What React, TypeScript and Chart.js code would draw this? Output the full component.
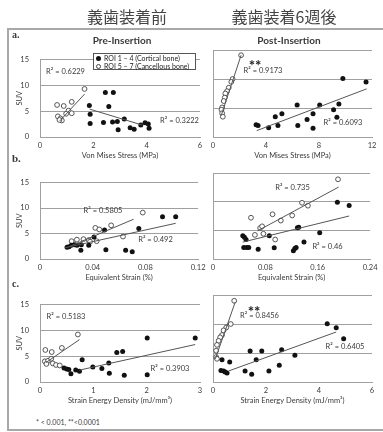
import React, { useEffect, useRef } from 'react';
import { Chart, registerables } from 'chart.js';

Chart.register(...registerables);

type Pt = [number, number];

// ---------- text ----------
const jpTitles = ['義歯装着前', '義歯装着6週後'];
const phaseTitles = ['Pre-Insertion', 'Post-Insertion'];
const rowLetters = ['a.', 'b.', 'c.'];
const roiLabels = ['ROI 1 – 4 (Cortical bone)', 'ROI 5 – 7 (Cancellous bone)'];
const xTitles = ['Von Mises Stress (MPa)', 'Equivalent Strain (%)', 'Strain Energy Density (mJ/mm³)'];
const yTitle = 'SUV';
const footnote = '* < 0.001, **<0.0001';

// ---------- ticks ----------
const suvTicks = [0, 5, 10, 15];
const suvTickLabels = ['0', '5', '10', '15'];
const stressTicksPre = [0, 2, 4, 6];
const stressLabelsPre = ['0', '2', '4', '6'];
const stressTicksPost = [0, 4, 8, 12];
const stressLabelsPost = ['0', '4', '8', '12'];
const strainTicksPre = [0, 0.04, 0.08, 0.12];
const strainLabelsPre = ['0', '0.04', '0.08', '0.12'];
const strainTicksPost = [0, 0.08, 0.16, 0.24];
const strainLabelsPost = ['0', '0.08', '0.16', '0.24'];
const sedTicksPre = [0, 1, 2, 3];
const sedLabelsPre = ['0', '1', '2', '3'];
const sedTicksPost = [0, 2, 4, 6];
const sedLabelsPost = ['0', '2', '4', '6'];

// ---------- a. Von Mises stress ----------
const stressPreCortical: Pt[] = [
  [1.85, 6.1], [1.88, 4.4], [1.88, 2.6], [2.45, 8.6], [2.75, 8.6], [2.58, 5.9], [2.38, 2.8],
  [2.72, 2.9], [2.9, 3.0], [2.93, 1.4], [3.16, 3.5], [3.38, 1.8], [3.53, 1.5], [3.78, 2.3],
  [3.94, 2.75], [4.06, 2.5], [4.09, 1.7],
];
const stressPreCancellous: Pt[] = [
  [0.64, 6.2], [0.89, 6.0], [1.19, 6.8], [1.67, 9.3], [1.07, 5.1], [1.19, 4.6], [0.98, 4.5],
  [0.67, 4.0], [0.77, 3.6], [0.82, 3.2], [0.73, 3.3],
];
const stressPreCorticalFit: Pt[] = [[1.86, 5.4], [3.84, 2.3]];
const stressPreCancellousFit: Pt[] = [[0.74, 3.1], [1.67, 8.3]];
const stressPostCortical: Pt[] = [
  [3.25, 2.1], [3.4, 2.0], [4.2, 1.6], [4.7, 3.5], [4.9, 2.0], [5.2, 4.0], [6.35, 5.5],
  [6.4, 2.0], [7.1, 3.0], [7.55, 4.0], [7.55, 1.5], [8.05, 5.5], [9.1, 4.7], [9.35, 3.4],
  [9.5, 5.7], [9.8, 10.1], [11.55, 9.5],
];
const stressPostCancellous: Pt[] = [
  [2.12, 14.1], [1.48, 10.0], [1.38, 9.5], [1.19, 8.5], [1.06, 7.9], [0.93, 7.5], [0.89, 6.8],
  [0.81, 6.2], [0.69, 5.1], [0.64, 4.7], [0.69, 4.1], [0.74, 3.5],
];
const stressPostCorticalFit: Pt[] = [[3.3, 1.1], [11.6, 8.3]];
const stressPostCancellousFit: Pt[] = [[0.62, 3.7], [2.12, 14.1]];

// ---------- b. Equivalent strain ----------
const strainPreCortical: Pt[] = [
  [0.0205, 2.3], [0.022, 2.4], [0.0238, 2.7], [0.0263, 2.8], [0.0281, 2.7], [0.0314, 2.8],
  [0.031, 1.7], [0.037, 2.7], [0.041, 4.3], [0.049, 5.7], [0.05, 1.8], [0.065, 1.7],
  [0.07, 1.4], [0.075, 6.0], [0.093, 8.3], [0.103, 8.3],
];
const strainPreCancellous: Pt[] = [
  [0.024, 3.5], [0.028, 3.8], [0.033, 3.9], [0.037, 3.7], [0.038, 3.4], [0.042, 6.1],
  [0.045, 5.8], [0.043, 3.5], [0.054, 6.6], [0.063, 4.4], [0.078, 9.1],
];
const strainPreCorticalFit: Pt[] = [[0.019, 2.2], [0.103, 7.0]];
const strainPreCancellousFit: Pt[] = [[0.022, 2.4], [0.071, 7.8]];
const strainPostCortical: Pt[] = [
  [0.0455, 4.05], [0.048, 3.8], [0.0505, 3.4], [0.047, 2.0], [0.0515, 2.0], [0.0546, 2.0],
  [0.069, 1.7], [0.086, 4.05], [0.0935, 1.95], [0.1228, 1.45], [0.125, 1.85], [0.127, 2.0],
  [0.129, 5.45], [0.131, 5.55], [0.139, 2.95], [0.163, 4.6], [0.19, 9.9], [0.208, 9.35],
];
const strainPostCancellous: Pt[] = [
  [0.058, 7.2], [0.064, 4.2], [0.072, 5.4], [0.075, 5.7], [0.077, 4.4], [0.091, 7.8],
  [0.095, 3.4], [0.1036, 6.7], [0.121, 7.6], [0.136, 9.8], [0.145, 9.3], [0.191, 13.9],
];
const strainPostCorticalFit: Pt[] = [[0.0455, 2.95], [0.208, 7.5]];
const strainPostCancellousFit: Pt[] = [[0.068, 4.9], [0.192, 12.55]];

// ---------- c. Strain energy density ----------
const sedPreCortical: Pt[] = [
  [0.45, 2.7], [0.5, 2.5], [0.54, 2.4], [0.58, 1.6], [0.67, 2.3], [0.74, 2.1], [0.79, 4.3],
  [0.99, 2.9], [1.16, 2.6], [1.29, 3.7], [1.3, 1.7], [1.44, 5.7], [1.55, 5.9], [1.58, 1.3],
  [2.01, 1.4], [2.01, 8.5], [2.91, 8.5],
];
const sedPreCancellous: Pt[] = [
  [0.1, 6.2], [0.22, 5.8], [0.41, 6.6], [0.71, 9.2], [0.09, 4.0], [0.15, 4.1], [0.21, 4.5],
  [0.24, 3.6], [0.3, 3.3], [0.37, 3.2], [0.12, 3.5],
];
const sedPreCorticalFit: Pt[] = [[0.74, 2.3], [2.91, 7.25]];
const sedPreCancellousFit: Pt[] = [[0.11, 3.75], [0.74, 8.2]];
const sedPostCortical: Pt[] = [
  [0.34, 3.85], [0.63, 3.45], [0.3, 2.0], [0.4, 1.9], [0.46, 1.72], [0.53, 1.55], [1.21, 1.9],
  [1.46, 1.32], [1.4, 5.34], [1.63, 3.85], [1.84, 5.34], [2.11, 1.9], [2.5, 2.87],
  [2.59, 5.57], [3.09, 4.6], [4.31, 10.05], [4.65, 9.37], [4.93, 7.47],
];
const sedPostCancellous: Pt[] = [
  [0.8, 14.0], [0.67, 10.0], [0.5, 9.4], [0.4, 8.9], [0.34, 8.1], [0.27, 7.7], [0.21, 7.1],
  [0.15, 6.4], [0.12, 5.4], [0.12, 4.3], [0.15, 4.0],
];
const sedPostCorticalFit: Pt[] = [[0.59, 1.9], [4.65, 8.62]];
const sedPostCancellousFit: Pt[] = [[0.09, 4.0], [0.84, 13.8]];

// ---------- R² values ----------
const r2Cancellous = ['0.6229', '0.9173', '0.5805', '0.735', '0.5183', '0.8456'];
const r2Cortical = ['0.3222', '0.6093', '0.492', '0.46', '0.3903', '0.6405'];

// ---------- style ----------
const FONT = 'Lato, "Liberation Sans", sans-serif';
const TXT = '#3a3a3a';
const GRID = '#a0a0a0';

type PanelDef = {
  left: number; top: number; width: number; height: number;
  padLeft: number; yWidth: number; showY: boolean;
  xTicks: number[]; xLabels: string[]; xTitle: string;
  cortical: Pt[]; cancellous: Pt[]; corticalFit: Pt[]; cancellousFit: Pt[];
};

const rowsGeom = [{ top: 44, height: 116 }, { top: 167, height: 115 }, { top: 289, height: 116 }];
const colsGeom = [
  { left: 0, width: 210, padLeft: 12, yWidth: 28, showY: true },
  { left: 203, width: 179, padLeft: 10, yWidth: 0, showY: false },
];

const rowData = [
  {
    title: xTitles[0],
    pre: [stressTicksPre, stressLabelsPre, stressPreCortical, stressPreCancellous, stressPreCorticalFit, stressPreCancellousFit],
    post: [stressTicksPost, stressLabelsPost, stressPostCortical, stressPostCancellous, stressPostCorticalFit, stressPostCancellousFit],
  },
  {
    title: xTitles[1],
    pre: [strainTicksPre, strainLabelsPre, strainPreCortical, strainPreCancellous, strainPreCorticalFit, strainPreCancellousFit],
    post: [strainTicksPost, strainLabelsPost, strainPostCortical, strainPostCancellous, strainPostCorticalFit, strainPostCancellousFit],
  },
  {
    title: xTitles[2],
    pre: [sedTicksPre, sedLabelsPre, sedPreCortical, sedPreCancellous, sedPreCorticalFit, sedPreCancellousFit],
    post: [sedTicksPost, sedLabelsPost, sedPostCortical, sedPostCancellous, sedPostCorticalFit, sedPostCancellousFit],
  },
];

const panels: PanelDef[] = [];
rowData.forEach((r, ri) => {
  [r.pre, r.post].forEach((d: any[], ci) => {
    const g = colsGeom[ci];
    const rg = rowsGeom[ri];
    panels.push({
      left: g.left, top: rg.top, width: g.width, height: rg.height,
      padLeft: g.padLeft, yWidth: g.yWidth, showY: g.showY,
      xTicks: d[0], xLabels: d[1], xTitle: r.title,
      cortical: d[2], cancellous: d[3], corticalFit: d[4], cancellousFit: d[5],
    });
  });
});

const toXY = (p: Pt[]) => p.map(([x, y]) => ({ x, y }));

function Panel({ p }: { p: PanelDef }) {
  const ref = useRef<HTMLCanvasElement>(null);
  useEffect(() => {
    const tickFont = { family: FONT, size: 7.5 };
    const chart = new Chart(ref.current as HTMLCanvasElement, {
      type: 'scatter',
      data: {
        datasets: [
          { data: toXY(p.corticalFit), showLine: true, pointRadius: 0, borderColor: '#555', borderWidth: 1 } as any,
          { data: toXY(p.cancellousFit), showLine: true, pointRadius: 0, borderColor: '#555', borderWidth: 1 } as any,
          { label: roiLabels[0], data: toXY(p.cortical), pointRadius: 2.5, backgroundColor: '#111', borderColor: '#111', borderWidth: 0 },
          { label: roiLabels[1], data: toXY(p.cancellous), pointRadius: 2.4, backgroundColor: '#fff', borderColor: '#444', borderWidth: 0.9 },
        ],
      },
      options: {
        responsive: false,
        animation: false,
        devicePixelRatio: 1,
        events: [],
        layout: { padding: { left: p.padLeft, right: 10, top: 6, bottom: 0 } },
        plugins: { legend: { display: false }, tooltip: { enabled: false } },
        scales: {
          x: {
            type: 'linear',
            min: p.xTicks[0],
            max: p.xTicks[p.xTicks.length - 1],
            afterBuildTicks: (s: any) => { s.ticks = p.xTicks.map((v) => ({ value: v })); },
            afterFit: (s: any) => { s.height = 23; },
            ticks: {
              autoSkip: false, maxRotation: 0, padding: 4.5, color: TXT, font: tickFont,
              callback: (v: any) => p.xLabels[p.xTicks.indexOf(Number(v))] ?? '',
            },
            grid: { display: false, drawTicks: false },
            border: { display: true, color: GRID, width: 1 },
            title: { display: true, text: p.xTitle, color: TXT, font: tickFont, padding: { top: 0, bottom: 0 } },
          },
          y: {
            type: 'linear',
            min: suvTicks[0],
            max: suvTicks[suvTicks.length - 1],
            afterBuildTicks: (s: any) => { s.ticks = suvTicks.map((v) => ({ value: v })); },
            afterFit: (s: any) => { s.width = p.yWidth; },
            ticks: {
              display: p.showY, autoSkip: false, padding: 11, color: TXT, font: tickFont,
              callback: (v: any) => suvTickLabels[suvTicks.indexOf(Number(v))] ?? '',
            },
            grid: { color: GRID, lineWidth: 1, drawTicks: false },
            border: { display: true, color: GRID, width: 1 },
            title: { display: p.showY, text: yTitle, color: TXT, font: tickFont, padding: { top: 3.5, bottom: 0 } },
          },
        },
      },
    });
    return () => chart.destroy();
  }, []);
  return (
    <canvas
      ref={ref}
      width={p.width}
      height={p.height}
      style={{ position: 'absolute', left: p.left, top: p.top, width: p.width, height: p.height }}
    />
  );
}

type Txt = { t: string; x: number; y: number; size?: number; bold?: boolean; left?: boolean; family?: string; color?: string };

const texts: Txt[] = [
  { t: jpTitles[0], x: 127, y: 16, size: 16, family: '"Noto Sans CJK JP", sans-serif', color: '#444' },
  { t: jpTitles[1], x: 284, y: 16, size: 16, family: '"Noto Sans CJK JP", sans-serif', color: '#444' },
  { t: phaseTitles[0], x: 122, y: 40, size: 10, bold: true },
  { t: phaseTitles[1], x: 289, y: 40, size: 10, bold: true },
  { t: rowLetters[0], x: 12, y: 35, size: 10, bold: true, left: true, family: '"Liberation Serif", serif' },
  { t: rowLetters[1], x: 12, y: 158, size: 11, bold: true, left: true, family: '"Liberation Serif", serif' },
  { t: rowLetters[2], x: 12, y: 284, size: 10, bold: true, left: true, family: '"Liberation Serif", serif' },
  { t: `R² = ${r2Cancellous[0]}`, x: 65.5, y: 72 },
  { t: `R² = ${r2Cortical[0]}`, x: 179.5, y: 121 },
  { t: `R² = ${r2Cancellous[1]}`, x: 263, y: 71 },
  { t: `R² = ${r2Cortical[1]}`, x: 343, y: 123 },
  { t: `R² = ${r2Cancellous[2]}`, x: 103, y: 211 },
  { t: `R² = ${r2Cortical[2]}`, x: 155.5, y: 240 },
  { t: `R² = ${r2Cancellous[3]}`, x: 292.5, y: 188 },
  { t: `R² = ${r2Cortical[3]}`, x: 327.5, y: 247 },
  { t: `R² = ${r2Cancellous[4]}`, x: 66, y: 317 },
  { t: `R² = ${r2Cortical[4]}`, x: 170, y: 369 },
  { t: `R² = ${r2Cancellous[5]}`, x: 259.5, y: 316 },
  { t: `R² = ${r2Cortical[5]}`, x: 345, y: 347 },
  { t: '**', x: 255, y: 65, size: 15, bold: true, color: '#222' },
  { t: '**', x: 254, y: 311, size: 15, bold: true, color: '#222' },
  { t: footnote, x: 36, y: 422, size: 7, left: true },
];

function Legend() {
  const row = (label: string, filled: boolean) => (
    <div style={{ display: 'flex', alignItems: 'center', height: 8.5 }}>
      <span
        style={{
          display: 'inline-block', width: 5, height: 5, borderRadius: '50%', boxSizing: 'border-box',
          background: filled ? '#111' : '#fff', border: filled ? 'none' : '0.9px solid #444', marginRight: 3,
        }}
      />
      <span>{label}</span>
    </div>
  );
  return (
    <div
      style={{
        position: 'absolute', left: 93, top: 53, width: 103, height: 17, boxSizing: 'border-box',
        border: '1px solid #555', background: '#fff', padding: '0 0 0 2px', fontFamily: FONT,
        fontSize: 7, color: '#222', whiteSpace: 'nowrap', lineHeight: 1,
      }}
    >
      {row(roiLabels[0], true)}
      {row(roiLabels[1], false)}
    </div>
  );
}

export default function App() {
  return (
    <div style={{ position: 'absolute', left: 0, top: 0, width: 383, height: 432, overflow: 'hidden', background: '#fff' }}>
      <div
        style={{
          position: 'absolute', left: 7, top: 28, width: 420, height: 403, boxSizing: 'border-box',
          border: '2px solid #a8a8a8',
        }}
      />
      {panels.map((p, i) => <Panel key={i} p={p} />)}
      <Legend />
      {texts.map((t, i) => (
        <div
          key={i}
          style={{
            position: 'absolute', left: t.x, top: t.y,
            transform: t.left ? 'translate(0,-50%)' : 'translate(-50%,-50%)',
            fontFamily: t.family ?? FONT, fontSize: t.size ?? 7.5, fontWeight: t.bold ? 700 : 400,
            color: t.color ?? TXT, whiteSpace: 'nowrap', lineHeight: 1,
          }}
        >
          {t.t}
        </div>
      ))}
    </div>
  );
}
